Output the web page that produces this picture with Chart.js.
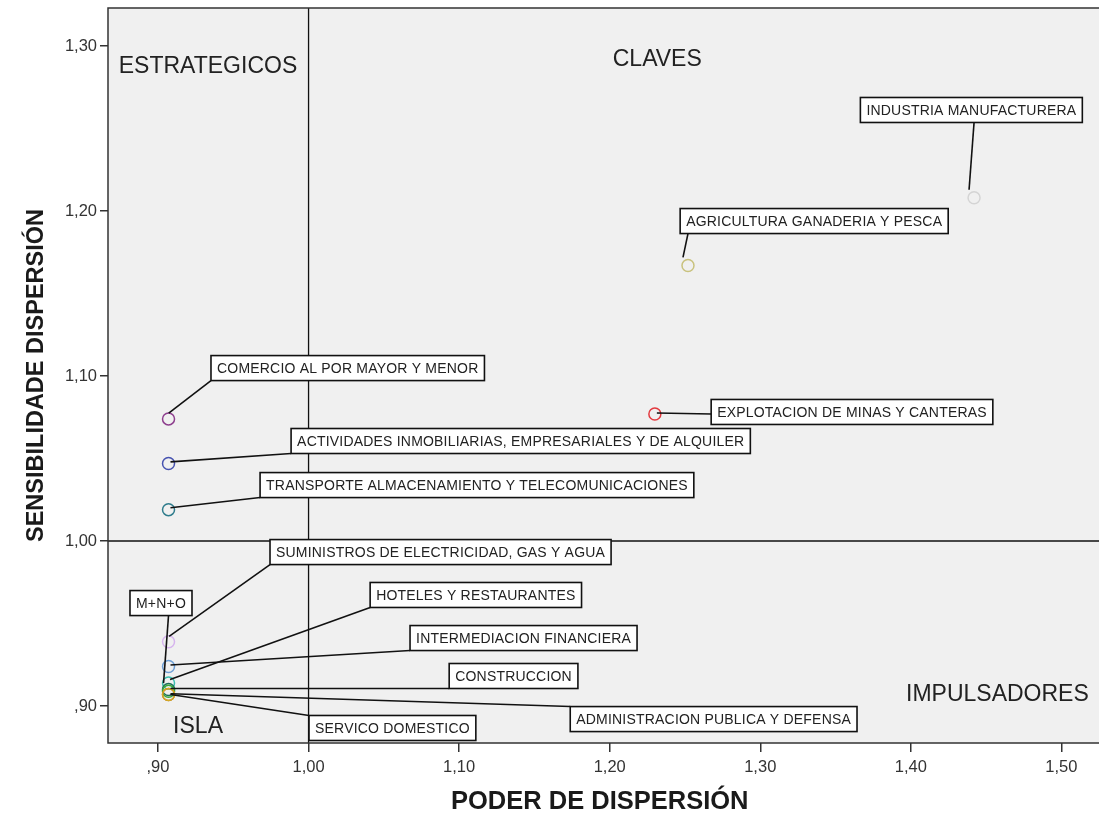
<!DOCTYPE html>
<html>
<head>
<meta charset="utf-8">
<script src="https://cdn.jsdelivr.net/npm/chart.js@4.4.1/dist/chart.umd.min.js"></script>
<style>
  html, body { margin: 0; padding: 0; background: #fff; overflow: hidden; }
  #wrap { width: 1099px; height: 817px; }
  canvas { display: block; }
</style>
</head>
<body>
<div id="wrap"><canvas id="chart" width="1099" height="817"></canvas></div>
<script>
// Sectors (order matters: labels, values and colours line up)
const sectors = [
  "INDUSTRIA MANUFACTURERA",
  "AGRICULTURA GANADERIA Y PESCA",
  "EXPLOTACION DE MINAS Y CANTERAS",
  "COMERCIO AL POR MAYOR Y MENOR",
  "ACTIVIDADES INMOBILIARIAS, EMPRESARIALES Y DE ALQUILER",
  "TRANSPORTE ALMACENAMIENTO Y TELECOMUNICACIONES",
  "SUMINISTROS DE ELECTRICIDAD, GAS Y AGUA",
  "INTERMEDIACION FINANCIERA",
  "HOTELES Y RESTAURANTES",
  "CONSTRUCCION",
  "M+N+O",
  "ADMINISTRACION PUBLICA Y DEFENSA",
  "SERVICO DOMESTICO",
];
const poder = [1.442, 1.252, 1.230, 0.907, 0.907, 0.907, 0.907, 0.907, 0.907, 0.907, 0.907, 0.907, 0.907];
const sensibilidad = [1.208, 1.167, 1.077, 1.074, 1.047, 1.019, 0.939, 0.924, 0.914, 0.910, 0.909, 0.907, 0.907];
const pointColors = [
  "#d4d4d4", "#c9c27e", "#e33a3f", "#8e3f8e", "#4652b0", "#2f7c8c",
  "#d6b4ee", "#6d9fd6", "#3bbdb0", "#1f6f5a", "#3aa83a", "#b06a1e", "#d4a825",
];
// where each tag box sits (left edge, vertical middle) in axis units
const tagX = [1.3665, 1.2468, 1.2674, 0.9352, 0.9884, 0.9678, 0.9744, 1.0674, 1.0409, 1.0934, 0.8814, 1.1738, 1.0003];
const tagY = [1.2612, 1.1939, 1.0782, 1.1048, 1.0606, 1.0339, 0.9933, 0.9412, 0.9673, 0.9182, 0.9624, 0.8921, 0.8867];

const xTicks = [0.9, 1.0, 1.1, 1.2, 1.3, 1.4, 1.5];
const xTickLabels = [",90", "1,00", "1,10", "1,20", "1,30", "1,40", "1,50"];
const yTicks = [0.9, 1.0, 1.1, 1.2, 1.3];
const yTickLabels = [",90", "1,00", "1,10", "1,20", "1,30"];

const quadrants = ["ESTRATEGICOS", "CLAVES", "IMPULSADORES", "ISLA"];
const quadX = [0.9332, 1.2316, 1.4575, 0.9266];
const quadY = [1.2875, 1.2917, 0.9067, 0.8873];

const FONT = "'Liberation Sans', Arial, sans-serif";

const points = poder.map((x, i) => ({ x: x, y: sensibilidad[i] }));

function noEdgePad(s) {
  s.paddingLeft = 0;
  s.paddingRight = 0;
  s.paddingTop = 0;
  s.paddingBottom = 0;
}

// plot panel runs to the right edge of the canvas like the original export
const frame = {
  id: "frame",
  beforeDatasetsDraw(chart) {
    const { ctx, chartArea: a, scales: { x, y } } = chart;
    const right = chart.width + 2;
    ctx.save();
    ctx.fillStyle = "#f0f0f0";
    ctx.fillRect(a.left, a.top, right - a.left, a.bottom - a.top);
    // reference lines at 1,00
    ctx.strokeStyle = "#111";
    ctx.lineWidth = 1.3;
    ctx.beginPath();
    ctx.moveTo(x.getPixelForValue(1), a.top);
    ctx.lineTo(x.getPixelForValue(1), a.bottom);
    ctx.moveTo(a.left, y.getPixelForValue(1));
    ctx.lineTo(right, y.getPixelForValue(1));
    ctx.stroke();
    // quadrant names
    ctx.fillStyle = "#222";
    ctx.font = "23px " + FONT;
    ctx.textAlign = "center";
    ctx.textBaseline = "middle";
    quadrants.forEach((q, i) => {
      ctx.fillText(q, x.getPixelForValue(quadX[i]), y.getPixelForValue(quadY[i]));
    });
    ctx.restore();
  },
  afterDraw(chart) {
    const { ctx, chartArea: a } = chart;
    ctx.save();
    ctx.strokeStyle = "#333";
    ctx.lineWidth = 1.5;
    ctx.strokeRect(a.left, a.top, chart.width + 4 - a.left, a.bottom - a.top);
    ctx.restore();
  },
};

const tags = {
  id: "tags",
  afterDatasetsDraw(chart) {
    const { ctx, scales: { x, y } } = chart;
    const meta = chart.getDatasetMeta(0);
    ctx.save();
    ctx.font = "14px " + FONT;
    if ("letterSpacing" in ctx) ctx.letterSpacing = "0.2px";
    ctx.textBaseline = "middle";
    ctx.textAlign = "left";
    const boxes = sectors.map((s, i) => {
      const w = ctx.measureText(s).width + 12;
      const h = 25;
      const bx = x.getPixelForValue(tagX[i]);
      const by = y.getPixelForValue(tagY[i]) - h / 2;
      return { bx, by, w, h };
    });
    // leader lines first
    ctx.strokeStyle = "#111";
    ctx.lineWidth = 1.6;
    boxes.forEach((b, i) => {
      const p = meta.data[i];
      const nx = Math.min(Math.max(p.x, b.bx), b.bx + b.w);
      const ny = Math.min(Math.max(p.y, b.by), b.by + b.h);
      const dx = nx - p.x, dy = ny - p.y;
      const d = Math.hypot(dx, dy) || 1;
      const r = 7;
      ctx.beginPath();
      ctx.moveTo(p.x + (dx / d) * r - 5, p.y + (dy / d) * r - 1);
      ctx.lineTo(nx, ny);
      ctx.stroke();
    });
    boxes.forEach((b, i) => {
      ctx.fillStyle = "#fff";
      ctx.fillRect(b.bx, b.by, b.w, b.h);
      ctx.strokeStyle = "#111";
      ctx.lineWidth = 1.6;
      ctx.strokeRect(b.bx, b.by, b.w, b.h);
      ctx.fillStyle = "#222";
      ctx.fillText(sectors[i], b.bx + 6, b.by + b.h / 2 + 1);
    });
    ctx.restore();
  },
};

new Chart(document.getElementById("chart"), {
  type: "scatter",
  data: {
    datasets: [{
      data: points,
      pointStyle: "circle",
      pointRadius: 6,
      pointBorderWidth: 1.5,
      pointBackgroundColor: "rgba(0,0,0,0)",
      pointBorderColor: pointColors,
    }],
  },
  options: {
    responsive: false,
    animation: false,
    devicePixelRatio: 1,
    layout: { padding: { left: 0, top: 8, right: 0, bottom: 0 } },
    plugins: { legend: { display: false }, tooltip: { enabled: false } },
    scales: {
      x: {
        type: "linear",
        min: 0.8668,
        max: 1.520,
        afterBuildTicks: (s) => { s.ticks = xTicks.map((v) => ({ value: v })); },
        afterFit: (s) => { s.height = 74; noEdgePad(s); },
        grid: { drawOnChartArea: false, color: "#333", tickLength: 9, lineWidth: 1.5 },
        border: { display: false },
        ticks: {
          color: "#333",
          font: { family: FONT, size: 16.5 },
          padding: 6,
          maxRotation: 0,
          callback: (v, i) => xTickLabels[i],
        },
        title: {
          display: true,
          text: "PODER DE DISPERSIÓN",
          color: "#1a1a1a",
          font: { family: FONT, size: 25.5, weight: "bold" },
          padding: { top: 0, bottom: 0 },
        },
      },
      y: {
        type: "linear",
        min: 0.8776,
        max: 1.323,
        afterBuildTicks: (s) => { s.ticks = yTicks.map((v) => ({ value: v })); },
        afterFit: (s) => { s.width = 108; noEdgePad(s); },
        grid: { drawOnChartArea: false, color: "#333", tickLength: 8, lineWidth: 1.5 },
        border: { display: false },
        ticks: {
          color: "#333",
          font: { family: FONT, size: 16.5 },
          padding: 3,
          callback: (v, i) => yTickLabels[i],
        },
        title: {
          display: true,
          text: "SENSIBILIDADE DISPERSIÓN",
          color: "#1a1a1a",
          font: { family: FONT, size: 23.5, weight: "bold" },
          padding: { top: 22, bottom: 0 },
        },
      },
    },
  },
  plugins: [frame, tags],
});
</script>
</body>
</html>
